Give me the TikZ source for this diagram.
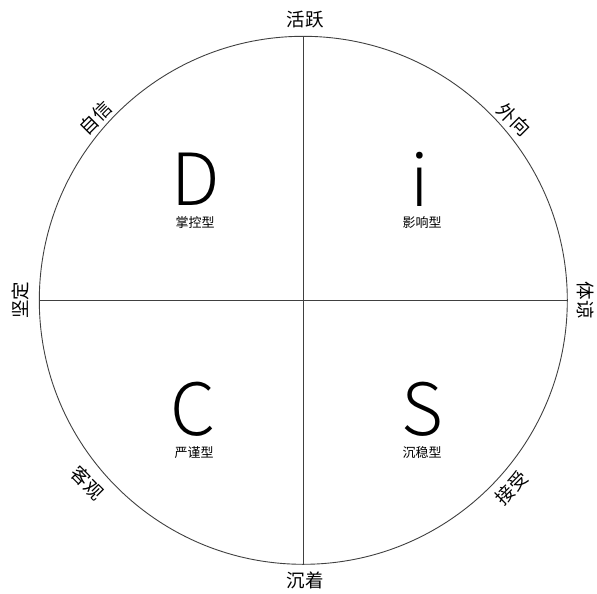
\documentclass[tikz,border=0pt]{standalone}
\usepackage{fontspec}
\setmainfont{Noto Sans CJK SC}
\newfontfamily\cjk{Noto Sans CJK SC}
\newfontfamily\cjklight{Noto Sans CJK SC Light}
\begin{document}
\begin{tikzpicture}[x=1pt,y=-1pt,
  ring/.style={line width=0.9pt,draw=black!75},
  axis/.style={line width=0.9pt,draw=black!75},
  outer/.style={font=\cjk\fontsize{18.5}{18.5}\selectfont,inner sep=0pt},
  big/.style={font=\cjklight\fontsize{72}{72}\selectfont,inner sep=0pt},
  sub/.style={font=\cjk\fontsize{13}{13}\selectfont,inner sep=0pt}]
\useasboundingbox (0,0) rectangle (597,594);
\coordinate (O) at (303.3,300.3);
\draw[ring] (O) circle (264);
\coordinate (T) at (303.3,36.3);
\coordinate (B) at (303.3,564.3);
\coordinate (L) at (39.3,300.3);
\coordinate (R) at (567.3,300.3);
\draw[axis] (T) -- (B);
\draw[axis] (L) -- (R);
\node[outer] (top) at (305,20) {活跃};
\node[outer] (bot) at (305,580) {沉着};
\node[outer,rotate=90] (left) at (20,300) {坚定};
\node[outer,rotate=-90] (right) at (586,300) {体谅};
\node[outer,rotate=45] (tl) at (96,118) {自信};
\node[outer,rotate=-45] (tr) at (514,120) {外向};
\node[outer,rotate=-45] (bl) at (88,483) {客观};
\node[outer,rotate=45] (br) at (512,488) {接受};
\node[big] (D) at (196,179) {D};
\node[sub] (Dt) at (195,223) {掌控型};
\node[big] (I) at (420,179) {i};
\node[sub] (It) at (422,223) {影响型};
\node[big] (C) at (193,409) {C};
\node[sub] (Ct) at (194,453) {严谨型};
\node[big] (S) at (422,409) {S};
\node[sub] (St) at (422,453) {沉稳型};
\end{tikzpicture}
\end{document}
